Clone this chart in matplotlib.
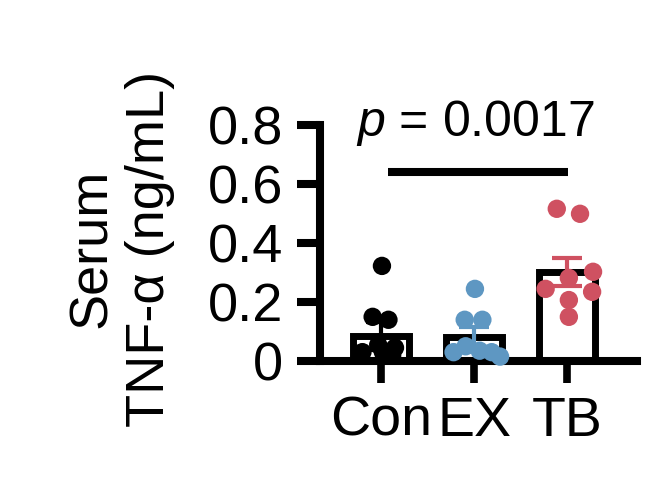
import numpy as np
import matplotlib
matplotlib.use('agg')
import matplotlib.pyplot as plt

## data
groups = ["Con", "EX", "TB"]
means = [0.085, 0.080, 0.303]
sems = [0.048, 0.036, 0.048]
con_vals = [0.323, 0.15, 0.14, 0.03, 0.055, 0.045, 0.02, 0.03]
ex_vals = [0.245, 0.14, 0.14, 0.03, 0.05, 0.035, 0.03, 0.015]
tb_vals = [0.517, 0.50, 0.303, 0.282, 0.245, 0.235, 0.207, 0.15]
# horizontal jitter of the dots, in bar-spacing units
con_jit = [0.01, -0.09, 0.08, -0.20, -0.03, 0.15, 0.12, 0.02]
ex_jit = [0.01, -0.10, 0.09, -0.22, -0.09, 0.06, 0.19, 0.28]
tb_jit = [-0.11, 0.14, 0.28, 0.02, -0.23, 0.27, 0.02, 0.02]
yticks = [0, 0.2, 0.4, 0.6, 0.8]
ytick_labels = ["0", "0.2", "0.4", "0.6", "0.8"]
p_text = r"$p$ = 0.0017"

colors = ["#000000", "#5E97C2", "#CF5161"]

plt.rcParams['font.family'] = ['Liberation Sans', 'DejaVu Sans']
plt.rcParams['mathtext.fontset'] = 'custom'
plt.rcParams['mathtext.it'] = 'Liberation Sans:italic'
plt.rcParams['mathtext.rm'] = 'Liberation Sans'

fig = plt.figure(figsize=(6.47, 4.83), dpi=100)
ax = fig.add_axes([0.4946, 0.2526, 0.4900, 0.4876])

x = np.arange(len(groups))
ax.bar(x, means, width=0.6, color='white', edgecolor='black', linewidth=5, zorder=1)

all_vals = [con_vals, ex_vals, tb_vals]
all_jit = [con_jit, ex_jit, tb_jit]
for i in range(len(groups)):
    ax.scatter(i + np.array(all_jit[i]), all_vals[i], s=175, color=colors[i],
               edgecolors='none', zorder=3, clip_on=False)
    ax.errorbar(i, means[i], yerr=sems[i], fmt='none', ecolor=colors[i],
                elinewidth=3, capsize=10.8, capthick=3, zorder=4)

# significance bar
ax.plot([0.075, 2.01], [0.643, 0.643], color='black', linewidth=5.8,
        solid_capstyle='butt', clip_on=False)
ax.text(1.01, 0.765, p_text, ha='center', va='baseline', fontsize=36, clip_on=False)

ax.set_xlim(-0.656, 2.753)
ax.set_ylim(0, 0.8)
ax.set_xticks(x)
ax.set_xticklabels(groups, fontsize=40)
ax.set_yticks(yticks)
ax.set_yticklabels(ytick_labels, fontsize=39)

for s in ['top', 'right']:
    ax.spines[s].set_visible(False)
for s in ['left', 'bottom']:
    ax.spines[s].set_linewidth(5.8)
ax.tick_params(axis='y', length=16.5, width=5.8, pad=10)
ax.tick_params(axis='x', length=16, width=5.5, pad=9)

ax.set_ylabel("Serum\nTNF-α (ng/mL)", fontsize=39, linespacing=1.2)
ax.yaxis.set_label_coords(-0.457, 0.477)

plt.savefig('out.png', dpi=100)
